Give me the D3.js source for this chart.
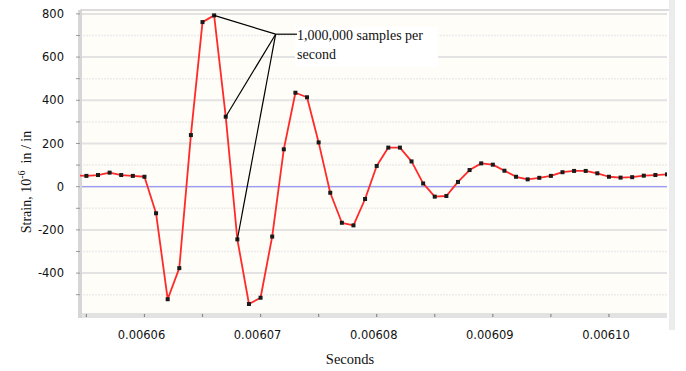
<!DOCTYPE html>
<html>
<head>
<meta charset="utf-8">
<script src="https://cdn.jsdelivr.net/npm/d3@7"></script>
<style>
  body { margin: 0; background: #fff; }
  svg { display: block; }
</style>
</head>
<body>
<svg width="686" height="371"></svg>
<script>
// sample times in microseconds (1,000,000 samples per second)
var timesUs = [6054, 6055, 6056, 6057, 6058, 6059, 6060, 6061, 6062, 6063, 6064,
  6065, 6066, 6067, 6068, 6069, 6070, 6071, 6072, 6073, 6074,
  6075, 6076, 6077, 6078, 6079, 6080, 6081, 6082, 6083, 6084,
  6085, 6086, 6087, 6088, 6089, 6090, 6091, 6092, 6093, 6094,
  6095, 6096, 6097, 6098, 6099, 6100, 6101, 6102, 6103, 6104, 6105];
// strain, 10^-6 in/in
var strain = [52, 50, 54, 65, 54, 50, 46, -123, -521, -377, 239,
  762, 793, 324, -244, -543, -514, -231, 173, 435, 414,
  205, -28, -167, -179, -57, 96, 181, 181, 117, 15,
  -46, -43, 22, 77, 108, 102, 74, 46, 34, 41,
  50, 67, 73, 73, 62, 46, 42, 44, 51, 54, 57];

var yTickLabels = [800, 600, 400, 200, 0, -200, -400];
var xTickLabels = [6060, 6070, 6080, 6090, 6100];
var note = ["1,000,000 samples per", "second"];
var noteAnchor = {t: 6071.3, v: 706};
var notePoints = [12, 13, 14]; // indices into the series

var data = timesUs.map((t, i) => { return {t: t, v: strain[i]}; });

// plot box (avoid the name "top", it is window.top)
var pL = 80, pR = 667, pT = 10, pB = 315;

var x = d3.scaleLinear().domain([6054.45, 6105]).range([pL, pR]);
var y = d3.scaleLinear().domain([-594, 818]).range([pB, pT]);

var svg = d3.select("svg");

svg.append("defs").append("clipPath").attr("id", "clip")
  .append("rect")
  .attr("x", pL).attr("y", pT)
  .attr("width", pR - pL).attr("height", pB - pT);

// plot background and frame
svg.append("rect")
  .attr("x", pL).attr("y", pT)
  .attr("width", pR - pL).attr("height", pB - pT)
  .attr("fill", "#fefdf7");
svg.append("line")
  .attr("x1", pL).attr("x2", pR + 6)
  .attr("y1", pT).attr("y2", pT)
  .attr("stroke", "#dcdcdc").attr("stroke-width", 2);
svg.append("rect")
  .attr("x", pR + 2).attr("y", 0)
  .attr("width", 6).attr("height", 330)
  .attr("fill", "#ececec");

// grid every 100
var gridVals = d3.range(-500, 801, 100);
svg.append("g").selectAll("line")
  .data(gridVals)
  .join("line")
  .attr("x1", pL).attr("x2", pR)
  .attr("y1", d => y(d)).attr("y2", d => y(d))
  .attr("stroke", d => d % 200 === 0 ? "#e3e3e3" : "#ececec")
  .attr("stroke-width", d => d % 200 === 0 ? 2 : 1.5)
  .attr("stroke-dasharray", d => d % 200 === 0 ? null : "2,1");

// axes bands
svg.append("rect")
  .attr("x", pL - 2).attr("y", pB - 2)
  .attr("width", pR - pL + 2).attr("height", 5)
  .attr("fill", "#e2e2e2");
svg.append("rect")
  .attr("x", pL - 2).attr("y", pT)
  .attr("width", 4).attr("height", pB - pT + 3)
  .attr("fill", "#d6d6d6");

// left ticks
svg.append("g").selectAll("line")
  .data(gridVals)
  .join("line")
  .attr("x1", pL - 4).attr("x2", pL)
  .attr("y1", d => y(d)).attr("y2", d => y(d))
  .attr("stroke", "#9a9a9a").attr("stroke-width", 1);

// bottom ticks every 5 us
svg.append("g").selectAll("line")
  .data(d3.range(6055, 6105, 5))
  .join("line")
  .attr("x1", d => x(d)).attr("x2", d => x(d))
  .attr("y1", pB - 1).attr("y2", pB + 2)
  .attr("stroke", "#8a8a8a").attr("stroke-width", 1.2);

// y tick labels
svg.append("g").selectAll("text")
  .data(yTickLabels)
  .join("text")
  .attr("x", 64).attr("y", d => y(d))
  .attr("dy", "0.36em")
  .attr("text-anchor", "end")
  .attr("font-family", "DejaVu Sans, sans-serif")
  .attr("font-size", 11.5)
  .attr("fill", "#111")
  .text(d => d);

// x tick labels
svg.append("g").selectAll("text")
  .data(xTickLabels)
  .join("text")
  .attr("x", d => x(d) - 3).attr("y", 339)
  .attr("text-anchor", "middle")
  .attr("font-family", "DejaVu Sans, sans-serif")
  .attr("font-size", 11.5)
  .attr("fill", "#111")
  .text(d => (d / 1e6).toFixed(5));

// axis titles
svg.append("text")
  .attr("x", 350).attr("y", 364)
  .attr("text-anchor", "middle")
  .attr("font-family", "Liberation Serif, serif")
  .attr("font-size", 14.5)
  .attr("fill", "#111")
  .text("Seconds");

var yt = svg.append("text")
  .attr("transform", "translate(31, 182) rotate(-90)")
  .attr("text-anchor", "middle")
  .attr("font-family", "Liberation Serif, serif")
  .attr("font-size", 14)
  .attr("fill", "#111");
yt.append("tspan").text("Strain, 10");
yt.append("tspan").attr("dy", -6).attr("font-size", 10).text("-6");
yt.append("tspan").attr("dy", 6).text("\u00a0 in / in");

// zero line
svg.append("line")
  .attr("x1", pL + 2).attr("x2", pR)
  .attr("y1", y(0)).attr("y2", y(0))
  .attr("stroke", "#8c8cff").attr("stroke-width", 1);

// note box
svg.append("rect")
  .attr("x", 295).attr("y", 27)
  .attr("width", 143).attr("height", 40)
  .attr("fill", "#fff");

var plot = svg.append("g").attr("clip-path", "url(#clip)");

var line = d3.line()
  .x(d => x(d.t))
  .y(d => y(d.v));

plot.append("path")
  .attr("d", line(data))
  .attr("fill", "none")
  .attr("stroke", "#ff2a2a")
  .attr("stroke-width", 1.8)
  .attr("stroke-linejoin", "round");

plot.selectAll("rect.pt")
  .data(data)
  .join("rect")
  .attr("class", "pt")
  .attr("x", d => x(d.t) - 2).attr("y", d => y(d.v) - 2)
  .attr("width", 4).attr("height", 4)
  .attr("fill", "#1a1a1a");

// annotation leader lines
var ax = x(noteAnchor.t), ay = y(noteAnchor.v);
svg.append("g").selectAll("line")
  .data(notePoints)
  .join("line")
  .attr("x1", ax).attr("y1", ay)
  .attr("x2", i => x(data[i].t)).attr("y2", i => y(data[i].v))
  .attr("stroke", "#000").attr("stroke-width", 1.2);
svg.append("line")
  .attr("x1", ax).attr("y1", ay)
  .attr("x2", 297).attr("y2", ay)
  .attr("stroke", "#000").attr("stroke-width", 1.2);

svg.append("g").selectAll("text")
  .data(note)
  .join("text")
  .attr("x", 297).attr("y", (d, i) => 40 + i * 19)
  .attr("font-family", "Liberation Serif, serif")
  .attr("font-size", 14)
  .attr("fill", "#111")
  .text(d => d);
</script>
</body>
</html>
